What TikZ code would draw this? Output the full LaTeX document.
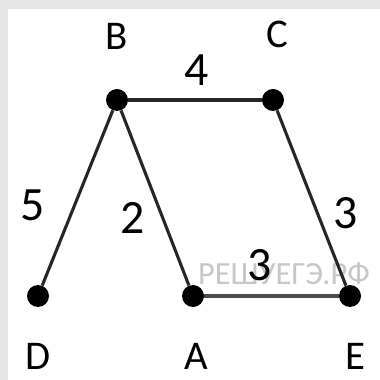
\documentclass[tikz,border=0pt]{standalone}
\usepackage{fontspec}
\setmainfont{Carlito}
\usetikzlibrary{positioning}
\colorlet{framegray}{black!10}
\colorlet{markgray}{black!22}

\begin{document}
\begin{tikzpicture}[
    vertex/.style={circle, fill=black, inner sep=0pt, minimum size=0.55cm},
    lbl/.style={font=\fontsize{29}{29}\selectfont},
    wt/.style={font=\fontsize{34}{34}\selectfont},
    edge/.style={line width=2.2pt, draw=black!85}]
    % frame
    \fill[framegray] (0,0) rectangle (9.5,9.5);
    \fill[white] (0.2,0) rectangle (9.5,9.275);
    \useasboundingbox (0,0) rectangle (9.5,9.5);

    \node[text=markgray, font=\fontsize{23}{23}\selectfont] (mark) at (7.1, 2.65) {РЕШУЕГЭ.РФ};

    \node[vertex] (B) at (2.925, 7.0) {};
    \node[vertex] (C) at (6.825, 7.0) {};
    \node[vertex] (D) at (0.95, 2.1) {};
    \node[vertex] (A) at (4.825, 2.1) {};
    \node[vertex] (E) at (8.75, 2.1) {};

    \draw[edge] (B) -- (C);
    \draw[edge] (B) -- (D);
    \draw[edge] (B) -- (A);
    \draw[edge] (C) -- (E);
    \draw[edge, line width=3pt, draw=black!70] (A) -- (E);

    \node[lbl] (lB) at (2.925, 8.6) {B};
    \node[lbl] (lC) at (6.925, 8.65) {C};
    \node[lbl] (lD) at (0.95, 0.6) {D};
    \node[lbl] (lA) at (4.9, 0.6) {A};
    \node[lbl] (lE) at (8.875, 0.6) {E};

    \node[wt] (wBC) at (4.925, 7.75) {4};
    \node[wt] (wBD) at (0.825, 4.375) {5};
    \node[wt] (wBA) at (3.325, 4.05) {2};
    \node[wt] (wCE) at (8.65, 4.175) {3};
    \node[wt] (wAE) at (6.5, 2.875) {3};
\end{tikzpicture}
\end{document}
